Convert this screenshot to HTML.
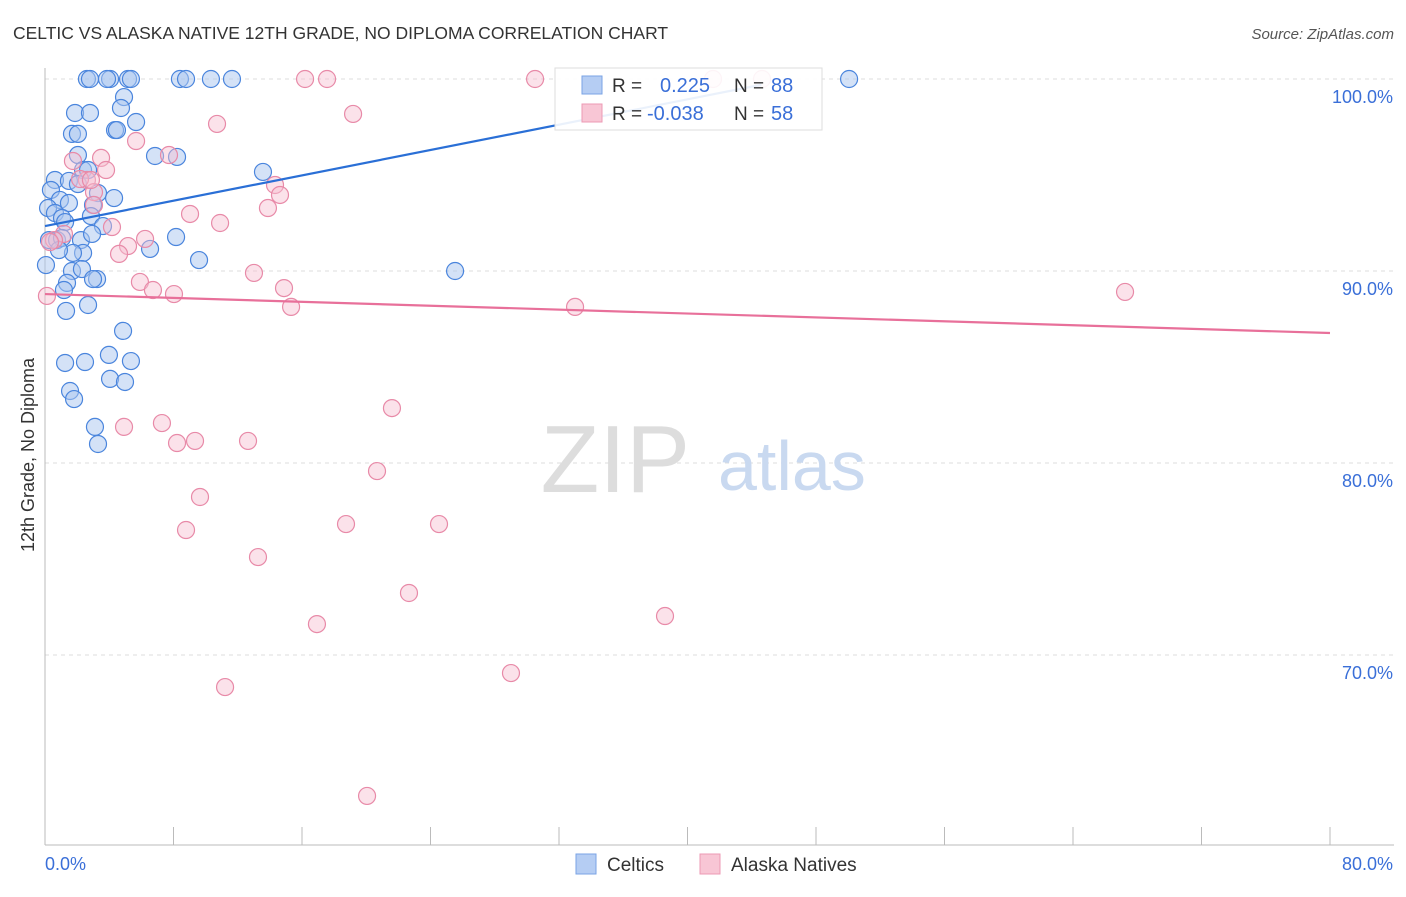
<!DOCTYPE html>
<html><head><meta charset="utf-8"><style>
body{margin:0;background:#fff;font-family:"Liberation Sans",sans-serif}
svg text{font-family:"Liberation Sans",sans-serif}
</style></head><body>
<svg id="c" width="1406" height="892">
<text x="13" y="39" font-size="17.5" fill="#333">CELTIC VS ALASKA NATIVE 12TH GRADE, NO DIPLOMA CORRELATION CHART</text>
<text x="1394" y="39" font-size="15" fill="#555" text-anchor="end" font-style="italic">Source: ZipAtlas.com</text>
<g id="grid"></g>
<text x="690" y="492" font-size="96" fill="#ddd" text-anchor="end" font-family="Liberation Serif">ZIP</text>
<text x="718" y="490" font-size="70" fill="#c9d9f0">atlas</text>
<g id="pts"></g>
<g id="trend"></g>
<text transform="translate(34,455) rotate(-90)" font-size="18" fill="#333" text-anchor="middle">12th Grade, No Diploma</text>
<g>
<rect x="555" y="68" width="267" height="62" fill="#fff" fill-opacity="0.9" stroke="#ddd"/>
<rect x="582" y="76" width="20" height="18" fill="#b5cdf3" stroke="#7aa3e5"/>
<rect x="582" y="104" width="20" height="18" fill="#f8c6d5" stroke="#ec9ab4"/>
<text x="612" y="92" font-size="19" fill="#333">R = </text><text x="660" y="92" font-size="20" fill="#3a6fd8">0.225</text>
<text x="734" y="92" font-size="19" fill="#333">N = </text><text x="771" y="92" font-size="20" fill="#3a6fd8">88</text>
<text x="612" y="120" font-size="19" fill="#333">R = </text><text x="647" y="120" font-size="20" fill="#3a6fd8">-0.038</text>
<text x="734" y="120" font-size="19" fill="#333">N = </text><text x="771" y="120" font-size="20" fill="#3a6fd8">58</text>
</g>
<g>
<rect x="576" y="854" width="20" height="20" fill="#b5cdf3" stroke="#7aa3e5"/>
<text x="607" y="871" font-size="19" fill="#333">Celtics</text>
<rect x="700" y="854" width="20" height="20" fill="#f8c6d5" stroke="#ec9ab4"/>
<text x="731" y="871" font-size="19" fill="#333">Alaska Natives</text>
</g>
</svg>
<script>
const blueX=[2.61,2.80,4.05,3.86,5.17,5.35,8.40,8.78,10.33,11.64,50.06,4.92,4.73,1.87,2.80,4.36,4.48,5.67,1.68,2.05,2.05,6.85,8.22,13.57,2.37,2.68,0.62,1.49,2.05,3.30,4.30,0.37,0.93,1.49,0.19,0.62,1.06,1.25,2.99,2.86,3.61,0.25,0.75,1.06,2.24,2.37,1.74,0.87,2.93,8.16,6.54,9.59,1.68,2.30,3.24,2.99,1.37,1.18,2.68,1.31,25.53,4.86,3.98,5.35,1.25,2.49,4.05,4.98,1.56,1.81,3.11,3.30,0.06];
const blueY=[100,100,100,100,100,100,100,100,100,100,100,99.06,98.49,98.23,98.23,97.34,97.34,97.76,97.14,97.14,96.04,95.99,95.94,95.16,95.26,95.26,94.74,94.69,94.53,94.06,93.80,94.22,93.70,93.54,93.28,93.02,92.76,92.55,93.44,92.86,92.34,91.61,91.61,91.72,91.61,90.94,90.94,91.09,91.93,91.77,91.15,90.57,90.00,90.10,89.58,89.58,89.38,89.01,88.23,87.92,90.00,86.88,85.63,85.31,85.21,85.26,84.38,84.22,83.75,83.33,81.88,80.99,90.31];
const pinkX=[16.19,17.56,30.51,41.59,44.64,19.18,10.71,5.67,3.49,1.74,7.72,3.80,2.61,2.18,3.05,14.32,14.63,13.88,9.03,10.90,4.17,5.17,6.23,4.61,1.18,0.56,0.31,3.05,13.01,14.88,5.91,6.72,8.03,15.32,0.12,33.00,67.24,21.60,7.28,4.92,8.22,9.34,12.64,20.67,9.65,18.74,24.53,8.78,13.26,22.66,16.93,38.60,29.01,11.21,20.05,2.86];
const pinkY=[100,100,100,100,100,98.18,97.66,96.77,95.89,95.73,96.04,95.26,94.74,94.79,94.11,94.48,93.96,93.28,92.97,92.50,92.29,91.30,91.67,90.89,91.93,91.61,91.51,93.44,89.90,89.11,89.43,89.01,88.80,88.13,88.70,88.13,88.91,82.86,82.08,81.88,81.04,81.15,81.15,79.58,78.23,76.82,76.82,76.51,75.10,73.23,71.61,72.03,69.06,68.33,62.66,94.74];
const yTicks=[100,90,80,70];
const yTickLabels=["100.0%","90.0%","80.0%","70.0%"];
const xTickLabels=["0.0%","80.0%"];
const blueTrend=[[0,92.34],[44.6,99.7]];
const pinkTrend=[[0,88.80],[80,86.77]];
const X=v=>45+v/80*1285, Y=v=>79+(100-v)*19.2;
const NS="http://www.w3.org/2000/svg";
function mk(t,a,p){const e=document.createElementNS(NS,t);for(const k in a)e.setAttribute(k,a[k]);p.appendChild(e);return e;}
const g=document.getElementById('grid');
yTicks.forEach((t,i)=>{
 const l=mk('line',{x1:45,x2:1394,y1:Y(t),y2:Y(t),stroke:'#ddd','stroke-dasharray':'4,4'},g);
 
 
 const tx=mk('text',{x:1393,y:Y(t)+24,'font-size':18,fill:'#3a6fd8','text-anchor':'end'},g);
 tx.textContent=yTickLabels[i];
 
 
});
const ax=mk('line',{x1:45,x2:45,y1:68,y2:845,stroke:'#bbb'},g);


const bx=mk('line',{x1:45,x2:1394,y1:845,y2:845,stroke:'#bbb'},g);


for(let i=0;i<=10;i++){const tk=mk('line',{x1:X(i*8),x2:X(i*8),y1:827,y2:845,stroke:'#bbb'},g);
 
 }
xTickLabels.forEach((s,i)=>{const t=mk('text',{x:i?1393:45,y:870,'font-size':18,fill:'#3a6fd8','text-anchor':i?'end':'start'},g);t.textContent=s;
 
 });
const p=document.getElementById('pts');
blueX.forEach((x,i)=>{const c=mk('circle',{cx:X(x),cy:Y(blueY[i]),r:8.5,fill:'#a9c6f0','fill-opacity':0.5,stroke:'#4a85dd','stroke-width':1.2},p);
 
 });
pinkX.forEach((x,i)=>{const c=mk('circle',{cx:X(x),cy:Y(pinkY[i]),r:8.5,fill:'#f7bfd0','fill-opacity':0.45,stroke:'#e88aa8','stroke-width':1.2},p);
 
 });
const tr=document.getElementById('trend');
const b=mk('line',{x1:X(blueTrend[0][0]),y1:Y(blueTrend[0][1]),x2:X(blueTrend[1][0]),y2:Y(blueTrend[1][1]),stroke:'#2a6fd6','stroke-width':2.2},tr);


const q=mk('line',{x1:X(pinkTrend[0][0]),y1:Y(pinkTrend[0][1]),x2:X(pinkTrend[1][0]),y2:Y(pinkTrend[1][1]),stroke:'#e8709a','stroke-width':2.2},tr);


</script>
</body></html>
